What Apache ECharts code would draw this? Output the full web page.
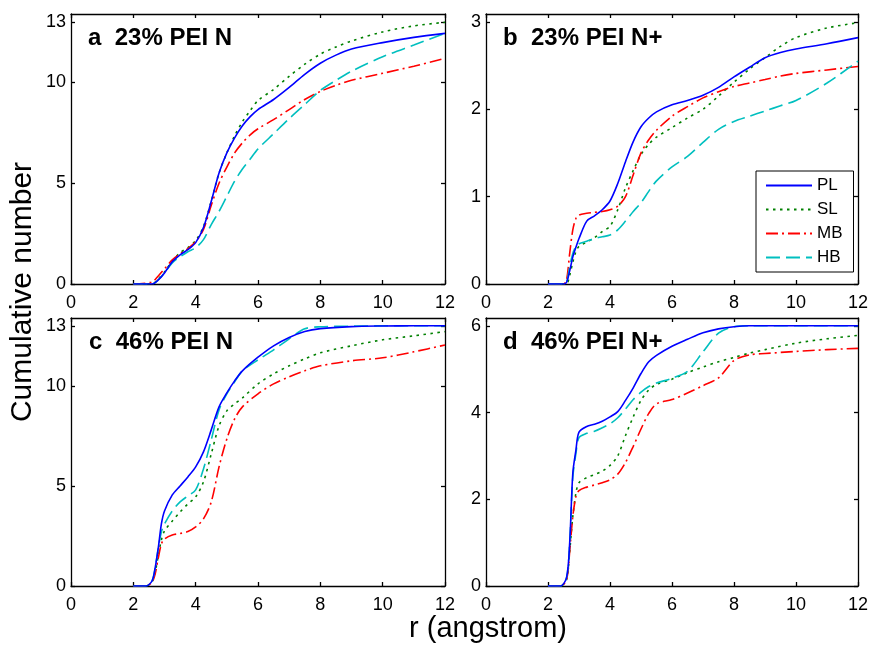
<!DOCTYPE html>
<html>
<head>
<meta charset="utf-8">
<script src="https://cdn.jsdelivr.net/npm/echarts@6/dist/echarts.min.js"></script>
<style>
html,body{margin:0;padding:0;background:#fff;}
#chart{width:873px;height:646px;}
</style>
</head>
<body>
<div id="chart"></div>
<script>
// ---- data ----
const seriesNames = ['PL', 'SL', 'MB', 'HB'];
const panelTitles = ['a  23% PEI N', 'b  23% PEI N+', 'c  46% PEI N', 'd  46% PEI N+'];
const xTicks = [0, 2, 4, 6, 8, 10, 12];
const yTicksA = [0, 5, 10, 13];
const yTicksB = [0, 1, 2, 3];
const yTicksC = [0, 5, 10, 13];
const yTicksD = [0, 2, 4, 6];

// panel a
const xA = [2, 2.6, 2.8, 3, 3.25, 3.5, 3.75, 4, 4.25, 4.5, 4.75, 5, 5.25, 5.5, 5.75, 6, 6.5, 7, 7.5, 8, 8.5, 9, 10, 11, 12];
const aPL = [0, 0, 0.2, 0.55, 1.1, 1.45, 1.7, 2.05, 2.8, 4.1, 5.5, 6.5, 7.25, 7.85, 8.3, 8.65, 9.15, 9.75, 10.4, 10.95, 11.35, 11.65, 11.97, 12.23, 12.43];
const aSL = [0, 0, 0.25, 0.6, 1.15, 1.55, 1.8, 2.15, 2.85, 4.1, 5.5, 6.5, 7.35, 8.05, 8.6, 9.1, 9.65, 10.3, 10.9, 11.4, 11.75, 12.05, 12.5, 12.8, 12.98];
const aMB = [0, 0.1, 0.4, 0.75, 1.2, 1.5, 1.75, 2.1, 2.7, 3.9, 5.0, 5.8, 6.5, 7.0, 7.4, 7.7, 8.15, 8.65, 9.15, 9.55, 9.85, 10.1, 10.45, 10.8, 11.19];
const aHB = [0, 0, 0.2, 0.55, 1.05, 1.35, 1.6, 1.8, 2.2, 2.95, 3.6, 4.35, 5.1, 5.7, 6.2, 6.7, 7.45, 8.2, 8.9, 9.6, 10.1, 10.55, 11.27, 11.85, 12.43];

// panel b
const xB = [2, 2.5, 2.6, 2.7, 2.8, 2.9, 3, 3.25, 3.5, 3.75, 4, 4.25, 4.5, 4.75, 5, 5.25, 5.5, 6, 6.5, 7, 7.5, 8, 8.5, 9, 9.5, 10, 11, 12];
const bPL = [0, 0, 0.02, 0.15, 0.31, 0.42, 0.52, 0.72, 0.78, 0.85, 0.95, 1.15, 1.4, 1.63, 1.8, 1.9, 1.97, 2.05, 2.1, 2.16, 2.25, 2.37, 2.48, 2.59, 2.65, 2.69, 2.75, 2.82];
const bSL = [0, 0, 0, 0.1, 0.25, 0.37, 0.43, 0.48, 0.53, 0.6, 0.66, 0.85, 1.1, 1.3, 1.48, 1.6, 1.68, 1.79, 1.9, 2.0, 2.15, 2.31, 2.46, 2.59, 2.72, 2.82, 2.93, 2.99];
const bMB = [0, 0, 0.05, 0.35, 0.62, 0.75, 0.79, 0.81, 0.82, 0.83, 0.85, 0.89, 1.0, 1.25, 1.5, 1.65, 1.76, 1.92, 2.03, 2.13, 2.2, 2.26, 2.3, 2.34, 2.38, 2.41, 2.45, 2.49];
const bHB = [0, 0, 0.02, 0.2, 0.35, 0.43, 0.46, 0.49, 0.52, 0.54, 0.56, 0.62, 0.72, 0.83, 0.93, 1.06, 1.18, 1.34, 1.46, 1.62, 1.77, 1.86, 1.92, 1.98, 2.04, 2.1, 2.3, 2.55];

// panel c
const xC = [2, 2.4, 2.6, 2.7, 2.8, 2.9, 3, 3.25, 3.5, 3.75, 4, 4.25, 4.5, 4.75, 5, 5.25, 5.5, 6, 6.5, 7, 7.5, 8, 9, 10, 11, 12];
const cPL = [0, 0, 0.25, 0.9, 1.9, 3.1, 3.75, 4.55, 5.0, 5.45, 5.95, 6.7, 7.8, 8.95, 9.65, 10.25, 10.75, 11.43, 12.0, 12.42, 12.72, 12.86, 12.96, 12.99, 13.0, 13.0];
const cSL = [0, 0, 0.2, 0.7, 1.5, 2.3, 2.75, 3.25, 3.7, 4.1, 4.45, 5.2, 6.6, 8.0, 8.75, 9.1, 9.4, 10.1, 10.6, 11.0, 11.35, 11.65, 12.0, 12.3, 12.5, 12.71];
const cMB = [0, 0, 0.2, 0.6, 1.4, 2.1, 2.35, 2.55, 2.62, 2.72, 2.95, 3.35, 4.2, 5.95, 7.35, 8.35, 8.95, 9.6, 10.1, 10.45, 10.75, 11.0, 11.25, 11.4, 11.7, 12.04];
const cHB = [0, 0, 0.25, 0.9, 1.9, 2.7, 3.1, 3.75, 4.2, 4.5, 4.8, 5.85, 7.3, 8.8, 9.6, 10.2, 10.75, 11.3, 11.8, 12.35, 12.85, 12.95, 12.98, 13.0, 13.0, 13.0];

// panel d
const xD = [2, 2.4, 2.6, 2.7, 2.8, 2.9, 3, 3.25, 3.5, 3.75, 4, 4.25, 4.5, 4.75, 5, 5.25, 5.5, 6, 6.5, 7, 7.5, 8, 8.5, 9, 10, 11, 12];
const dPL = [0, 0, 0.2, 1.0, 2.6, 3.13, 3.55, 3.68, 3.73, 3.8, 3.9, 4.02, 4.28, 4.57, 4.9, 5.17, 5.32, 5.53, 5.69, 5.84, 5.93, 5.98, 6.0, 6.0, 6.0, 6.0, 6.0];
const dSL = [0, 0, 0.15, 0.8, 1.6, 2.14, 2.38, 2.5, 2.57, 2.65, 2.78, 3.0, 3.47, 3.9, 4.28, 4.52, 4.65, 4.77, 4.92, 5.05, 5.17, 5.27, 5.37, 5.45, 5.6, 5.7, 5.78];
const dMB = [0, 0, 0.15, 0.8, 1.6, 2.06, 2.2, 2.28, 2.33, 2.38, 2.45, 2.58, 2.85, 3.22, 3.62, 3.98, 4.2, 4.3, 4.45, 4.62, 4.8, 5.2, 5.33, 5.36, 5.41, 5.45, 5.48];
const dHB = [0, 0, 0.2, 1.0, 2.5, 3.05, 3.42, 3.52, 3.57, 3.65, 3.74, 3.88, 4.08, 4.3, 4.47, 4.6, 4.68, 4.79, 4.95, 5.4, 5.83, 5.98, 6.0, 6.0, 6.0, 6.0, 6.0];

// ---- build ----
const FONT = 'Liberation Sans, Arial, Helvetica, sans-serif';
const colors = ['#0000ff', '#008000', '#ff0000', '#00bfbf'];
const dashes = ['solid', [2.5, 4.5], [12, 4, 2, 4], [14, 6]];

const panels = [
  { x: xA, ys: [aPL, aSL, aMB, aHB], yMax: 13.39, yTicks: yTicksA },
  { x: xB, ys: [bPL, bSL, bMB, bHB], yMax: 3.09, yTicks: yTicksB },
  { x: xC, ys: [cPL, cSL, cMB, cHB], yMax: 13.39, yTicks: yTicksC },
  { x: xD, ys: [dPL, dSL, dMB, dHB], yMax: 6.18, yTicks: yTicksD }
];
const gridBoxes = [
  { left: 71, top: 14, width: 374, height: 270 },
  { left: 486, top: 14, width: 372, height: 270 },
  { left: 71, top: 318, width: 374, height: 268 },
  { left: 486, top: 318, width: 372, height: 268 }
];
const titlePos = [[88, 40], [503, 40], [89, 344], [503, 344]];

const axisLineStyle = { color: '#000', width: 1.3 };
const grid = [], xAxis = [], yAxis = [], series = [], graphic = [];

panels.forEach((p, g) => {
  grid.push(Object.assign({ containLabel: false }, gridBoxes[g]));
  const xBase = {
    type: 'value', gridIndex: g, min: 0, max: 12,
    axisLine: { show: true, onZero: false, lineStyle: axisLineStyle },
    axisTick: { show: true, inside: true, length: 4, customValues: xTicks, lineStyle: axisLineStyle },
    splitLine: { show: false }
  };
  xAxis.push(Object.assign({}, xBase, {
    position: 'bottom',
    axisLabel: { show: true, customValues: xTicks, fontSize: 18, color: '#000', fontFamily: FONT, margin: 10 }
  }));
  xAxis.push(Object.assign({}, xBase, { position: 'top', axisLabel: { show: false } }));
  const yBase = {
    type: 'value', gridIndex: g, min: 0, max: p.yMax,
    axisLine: { show: true, onZero: false, lineStyle: axisLineStyle },
    axisTick: { show: true, inside: true, length: 4, customValues: p.yTicks, lineStyle: axisLineStyle },
    splitLine: { show: false }
  };
  yAxis.push(Object.assign({}, yBase, {
    position: 'left',
    axisLabel: { show: true, customValues: p.yTicks, fontSize: 18, color: '#000', fontFamily: FONT, margin: 5 }
  }));
  yAxis.push(Object.assign({}, yBase, { position: 'right', axisLabel: { show: false } }));

  p.ys.forEach((ys, k) => {
    series.push({
      name: seriesNames[k],
      type: 'line',
      xAxisIndex: 2 * g,
      yAxisIndex: 2 * g,
      data: p.x.map((x, i) => [x, ys[i]]),
      showSymbol: false,
      symbol: 'none',
      smooth: 0.3,
      lineStyle: { color: colors[k], width: 1.6, type: dashes[k] },
      itemStyle: { color: colors[k] },
      z: k === 0 ? 5 : 3,
      animation: false
    });
  });

  graphic.push({
    type: 'text', left: titlePos[g][0], top: titlePos[g][1] - 14,
    style: { text: panelTitles[g], fontSize: 24, fontWeight: 'bold', fontFamily: FONT, fill: '#000' }
  });
});

graphic.push({
  type: 'text', x: 488, y: 629,
  style: { text: 'r (angstrom)', fontSize: 29, fontFamily: FONT, fill: '#000', align: 'center', verticalAlign: 'middle' }
});
graphic.push({
  type: 'text', x: 23, y: 292, rotation: Math.PI / 2,
  style: { text: 'Cumulative number', fontSize: 30, fontFamily: FONT, fill: '#000', align: 'center', verticalAlign: 'middle' }
});

const chart = echarts.init(document.getElementById('chart'), null, { renderer: 'canvas' });
chart.setOption({
  backgroundColor: '#fff',
  animation: false,
  grid, xAxis, yAxis, series, graphic,
  legend: {
    data: seriesNames,
    orient: 'vertical',
    left: 756, top: 171,
    padding: [6, 11, 6, 9],
    itemWidth: 46, itemHeight: 14, itemGap: 7,
    backgroundColor: '#fff',
    borderColor: '#000', borderWidth: 1,
    itemStyle: { opacity: 0 },
    textStyle: { fontSize: 17, lineHeight: 17, color: '#000', fontFamily: FONT },
    selectedMode: false
  }
});
</script>
</body>
</html>
